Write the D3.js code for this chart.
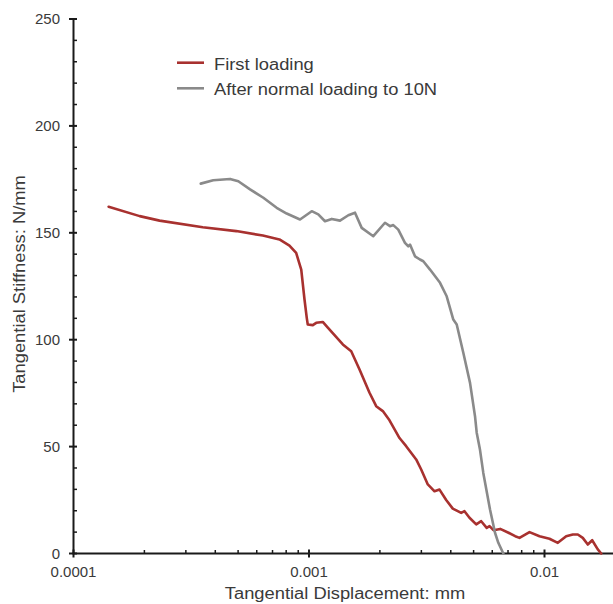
<!DOCTYPE html>
<html>
<head>
<meta charset="utf-8">
<script src="https://cdn.jsdelivr.net/npm/d3@7"></script>
<style>
  html, body { margin: 0; padding: 0; background: #fff; }
  svg { display: block; font-family: "Liberation Sans", Arial, Helvetica, sans-serif; }
</style>
</head>
<body>
<svg id="chart" width="613" height="604"></svg>
<script>
// Tangential stiffness vs. tangential displacement (log x axis)
const firstDisp = [0.000141, 0.000191, 0.000232, 0.000354, 0.000491, 0.000637, 0.000749, 0.000826,
  0.000882, 0.000927, 0.000957, 0.000979, 0.000988, 0.001038, 0.001073, 0.001144, 0.001202,
  0.001392, 0.001511, 0.001639, 0.001807, 0.001929, 0.002058, 0.002197, 0.002423, 0.002586,
  0.002852, 0.002995, 0.003195, 0.003249, 0.003412, 0.003583, 0.003824, 0.004079, 0.004283,
  0.004428, 0.004574, 0.004803, 0.005129, 0.005386, 0.005682, 0.005842, 0.006073, 0.006486,
  0.007032, 0.007508, 0.007831, 0.008637, 0.009524, 0.0105, 0.01139, 0.01236, 0.01319,
  0.01385, 0.01454, 0.01527, 0.01594, 0.01684, 0.01741];
const firstStiff = [162.2, 157.8, 155.7, 152.6, 150.8, 148.7, 146.9, 144.0,
  140.6, 132.8, 118.8, 110.0, 107.1, 106.8, 107.9, 108.3, 105.6,
  97.8, 94.6, 86.1, 75.2, 68.9, 66.6, 62.3, 54.0, 50.2,
  44.0, 39.3, 32.3, 31.5, 29.1, 29.9, 25.0, 21.0, 19.8,
  19.0, 19.8, 16.7, 13.6, 15.1, 12.0, 12.8, 10.9, 11.5,
  9.7, 8.1, 7.3, 10.0, 8.1, 6.9, 5.0, 8.1, 8.9,
  8.9, 7.3, 4.2, 6.2, 1.9, 0.0];

const afterDisp = [0.000347, 0.000392, 0.000462, 0.000501, 0.000562, 0.00064, 0.000729, 0.000804,
  0.000916, 0.001027, 0.001095, 0.001169, 0.001249, 0.001354, 0.001469, 0.001568, 0.001674,
  0.001875, 0.002102, 0.002207, 0.00228, 0.002394, 0.002556, 0.00264, 0.002685, 0.002819,
  0.00296, 0.003058, 0.003265, 0.003601, 0.003843, 0.0041, 0.004239, 0.004521, 0.004828,
  0.005069, 0.005154, 0.005321, 0.005497, 0.00587, 0.006164, 0.006366, 0.006685];
const afterStiff = [173.0, 174.6, 175.2, 174.1, 170.3, 166.4, 161.7, 159.0,
  156.2, 160.1, 158.6, 155.4, 156.5, 155.7, 158.2, 159.4, 152.3,
  148.4, 154.7, 153.1, 153.6, 151.5, 145.3, 143.7, 144.5, 139.0,
  137.5, 136.7, 132.8, 126.6, 120.3, 109.4, 107.1, 93.9, 79.8,
  64.2, 56.5, 48.6, 37.7, 20.6, 9.7, 5.0, 0.0];

const seriesNames = ["First loading", "After normal loading to 10N"];
const seriesColors = ["#a8312f", "#8a8a8a"];
const xTickValues = [0.0001, 0.001, 0.01];
const xTickLabels = ["0.0001", "0.001", "0.01"];
const yTickValues = [0, 50, 100, 150, 200, 250];

const svg = d3.select("#chart");
const axisColor = "#1a1a1a";
const textColor = "#3a3a3a";
const titleSize = 15.8;
const titleStretch = 1.16;

// widen a text element horizontally (titles and legend use a wide setting)
function stretch(sel) {
  sel.each(function () {
    const w = this.getComputedTextLength();
    d3.select(this).attr("textLength", w * titleStretch).attr("lengthAdjust", "spacingAndGlyphs");
  });
  return sel;
}

const x = d3.scaleLog().domain([0.0001, 0.02]).range([73.5, 73.5 + 235.5 * Math.log10(200)]);
const y = d3.scaleLinear().domain([0, 250]).range([553.5, 19]);

// minor tick positions
const xMinor = [];
for (let d = 0.0001; d < 0.02; d *= 10) {
  for (let k = 2; k <= 9; k++) if (d * k <= 0.02) xMinor.push(d * k);
}
const yMinor = d3.range(0, 251, 10).filter(v => v % 50 !== 0);

// y axis
const yAxisG = svg.append("g").attr("transform", `translate(${x.range()[0]},0)`);
yAxisG.append("line").attr("x1", 0).attr("x2", 0).attr("y1", y(250) - 1).attr("y2", y(0))
  .attr("stroke", axisColor).attr("stroke-width", 2);
yAxisG.selectAll(".ymin").data(yMinor).join("line")
  .attr("x1", 0).attr("x2", 3.5).attr("y1", d => y(d)).attr("y2", d => y(d))
  .attr("stroke", axisColor).attr("stroke-width", 1.5);
yAxisG.selectAll(".ymaj").data(yTickValues).join("line")
  .attr("x1", -4.5).attr("x2", 3.5).attr("y1", d => y(d)).attr("y2", d => y(d))
  .attr("stroke", axisColor).attr("stroke-width", 2);
yAxisG.selectAll(".ylab").data(yTickValues).join("text")
  .attr("x", -13.5).attr("y", d => y(d)).attr("dy", "0.35em")
  .attr("text-anchor", "end").attr("font-size", 15).attr("fill", textColor)
  .text(d => d);

// x axis
const xAxisG = svg.append("g").attr("transform", `translate(0,${y(0)})`);
xAxisG.append("line").attr("x1", x.range()[0] - 1).attr("x2", 613).attr("y1", 0).attr("y2", 0)
  .attr("stroke", axisColor).attr("stroke-width", 2);
xAxisG.selectAll(".xmin").data(xMinor).join("line")
  .attr("x1", d => x(d)).attr("x2", d => x(d)).attr("y1", 0).attr("y2", -3.5)
  .attr("stroke", axisColor).attr("stroke-width", 1.5);
xAxisG.selectAll(".xmaj").data(xTickValues).join("line")
  .attr("x1", d => x(d)).attr("x2", d => x(d)).attr("y1", -4).attr("y2", 4)
  .attr("stroke", axisColor).attr("stroke-width", 2);
xAxisG.selectAll(".xlab").data(xTickValues).join("text")
  .attr("x", d => x(d)).attr("y", 23.5)
  .attr("text-anchor", "middle").attr("font-size", 15).attr("fill", textColor)
  .text((d, i) => xTickLabels[i]);

// axis titles
svg.append("text").attr("x", 345).attr("y", 599)
  .attr("text-anchor", "middle").attr("font-size", titleSize).attr("fill", textColor)
  .text("Tangential Displacement: mm").call(stretch);
svg.append("text").attr("transform", "translate(25,284) rotate(-90)")
  .attr("text-anchor", "middle").attr("font-size", titleSize).attr("fill", textColor)
  .text("Tangential Stiffness: N/mm").call(stretch);

// curves
const line = d3.line().x(d => x(d[0])).y(d => y(d[1])).curve(d3.curveLinear);
const series = [
  d3.zip(firstDisp, firstStiff),
  d3.zip(afterDisp, afterStiff)
];
svg.selectAll(".curve").data(series).join("path")
  .attr("d", line)
  .attr("fill", "none")
  .attr("stroke", (d, i) => seriesColors[i])
  .attr("stroke-width", 2.6)
  .attr("stroke-linejoin", "round")
  .attr("stroke-linecap", "round");

// legend
const legend = svg.append("g");
seriesNames.forEach((name, i) => {
  const ly = 62.7 + i * 25.6;
  legend.append("line").attr("x1", 177).attr("x2", 204).attr("y1", ly).attr("y2", ly)
    .attr("stroke", seriesColors[i]).attr("stroke-width", 2.6);
  legend.append("text").attr("x", 214).attr("y", ly + 6.8)
    .attr("font-size", titleSize).attr("fill", textColor).text(name).call(stretch);
});
</script>
</body>
</html>
